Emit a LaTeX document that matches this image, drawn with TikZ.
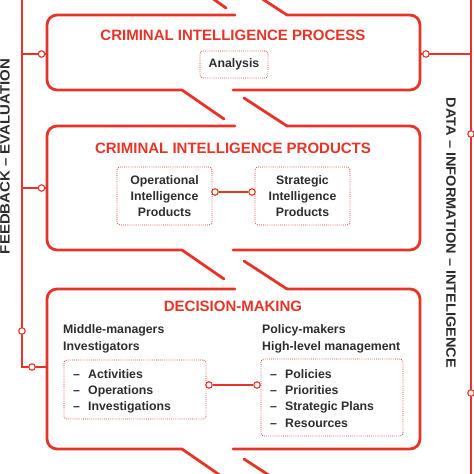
\documentclass[tikz,border=0pt]{standalone}
\usepackage{fontspec}
\setmainfont{Liberation Sans}
\definecolor{cred}{RGB}{230,52,40}
\definecolor{ctext}{RGB}{45,45,45}
\begin{document}
\begin{tikzpicture}[x=1pt,y=-1pt,
  frame/.style={draw=cred, line width=2.8pt, rounded corners=10pt, line cap=round, line join=round},
  diag/.style={draw=cred, line width=2.8pt, line cap=round},
  sideline/.style={draw=cred, line width=1.3pt},
  port/.style={circle, draw=cred, fill=white, line width=1.1pt, inner sep=0pt, minimum size=6.5pt},
  title/.style={text=cred, inner sep=0pt, font=\fontsize{15}{18}\selectfont\bfseries},
  body/.style={text=ctext, inner sep=0pt, font=\fontsize{12.3}{16}\selectfont\bfseries},
  dbox/.style={draw=cred, line width=0.8pt, dash pattern=on 0.8pt off 1.3pt, rounded corners=3pt, inner sep=0pt},
  item/.style={body, anchor=base west},
  sidetext/.style={text=ctext, inner sep=0pt, font=\fontsize{13.5}{16}\selectfont\bfseries},
]
\useasboundingbox (0,0) rectangle (474,474);
\clip (0,0) rectangle (474,474);

% ---- box frames (broken "flow" outlines) ----
% fragment of previous box
\draw[diag] (100,-22) -- (184,-22) -- (226,8);
% process box T=15 B=90
\draw[frame] (235,15) -- (47,15) -- (47,90) -- (182,90);
\draw[diag] (182,90) -- (224,119);
\draw[diag] (244,-13) -- (287,15);
\draw[frame] (287,15) -- (420,15) -- (420,90) -- (233,90);
% products box T=126 B=250
\draw[frame] (235,126) -- (47,126) -- (47,250) -- (182,250);
\draw[diag] (182,250) -- (224,279);
\draw[diag] (244,98) -- (287,126);
\draw[frame] (287,126) -- (420,126) -- (420,250) -- (233,250);
% decision box T=289 B=449
\draw[frame] (235,289) -- (47,289) -- (47,449) -- (182,449);
\draw[diag] (182,449) -- (224,478);
\draw[diag] (244,261) -- (287,289);
\draw[frame] (287,289) -- (420,289) -- (420,449) -- (233,449);
% fragment of next box
\draw[diag] (244,459) -- (287,487) -- (420,487);

% ---- titles ----
\node[title] (ptitle) at (233,35.5) {CRIMINAL INTELLIGENCE PROCESS};
\node[title] (rtitle) at (233,148) {CRIMINAL INTELLIGENCE PRODUCTS};
\node[title] (dtitle) at (233,306) {DECISION-MAKING};

% ---- inner boxes ----
\node[dbox, body, minimum width=68pt, minimum height=27pt] (analysis) at (234,64.5) {Analysis};
\node[dbox, body, minimum width=95pt, minimum height=58pt, align=center] (oper) at (164.5,196) {Operational\\Intelligence\\Products};
\node[dbox, body, minimum width=95pt, minimum height=58pt, align=center] (strat) at (302.5,196) {Strategic\\Intelligence\\Products};

\node[dbox, minimum width=142pt, minimum height=59pt] (lbox) at (135,389.5) {};
\node[dbox, minimum width=142pt, minimum height=77pt] (rbox) at (332,397.5) {};

% decision texts
\node[item] (mm) at (63,333) {Middle-managers};
\node[item] (inv) at (63,350) {Investigators};
\node[item] (pm) at (262,333) {Policy-makers};
\node[item] (hl) at (262,350) {High-level management};

\node[item] (l1) at (73,378) {\makebox[15pt][l]{–}Activities};
\node[item] (l2) at (73,394.3) {\makebox[15pt][l]{–}Operations};
\node[item] (l3) at (73,410.6) {\makebox[15pt][l]{–}Investigations};

\node[item] (r1) at (270,378) {\makebox[15pt][l]{–}Policies};
\node[item] (r2) at (270,394.3) {\makebox[15pt][l]{–}Priorities};
\node[item] (r3) at (270,410.6) {\makebox[15pt][l]{–}Strategic Plans};
\node[item] (r4) at (270,427) {\makebox[15pt][l]{–}Resources};

% ---- inner connectors ----
\node[port] (pop) at (215,192) {};
\node[port] (pst) at (252,192) {};
\draw[sideline] (pop) -- (pst);
\node[port] (plb) at (209,385) {};
\node[port] (prb) at (257,385) {};
\draw[sideline] (plb) -- (prb);

% ---- left feedback line ----
\coordinate (Ltop) at (22,-2);
\coordinate (Lbend) at (22,367);
\coordinate (decL) at (46,367);
\coordinate (LJ1) at (22,54);
\coordinate (procL) at (46,54);
\coordinate (LJ2) at (22,188);
\coordinate (prodL) at (46,188);
\draw[sideline] (Ltop) -- (Lbend) -- (decL);
\draw[sideline] (LJ1) -- (procL);
\draw[sideline] (LJ2) -- (prodL);
\node[port] (lp1) at (41.5,54) {};
\node[port] (lp2) at (41.5,188) {};
\node[port] (lp3) at (22,331) {};
\node[port] (lp4) at (32,367) {};

% ---- right data line ----
\coordinate (Rtop) at (471,-2);
\coordinate (Rbot) at (471,476);
\coordinate (RJ1) at (471,54);
\coordinate (procR) at (421,54);
\draw[sideline] (Rtop) -- (Rbot);
\draw[sideline] (procR) -- (RJ1);
\node[port] (rp1) at (426,54) {};
\node[port] (rp2) at (471,134) {};
\node[port] (rp3) at (471,393) {};

% ---- side labels ----
\node[sidetext, rotate=90] (fb) at (5,156.5) {\scalebox{1.11}[1]{FEEDBACK – EVALUATION}};
\node[sidetext, rotate=-90] (dii) at (451,233) {\scalebox{1.078}[1]{DATA – INFORMATION – INTELIGENCE}};
\end{tikzpicture}
\end{document}
